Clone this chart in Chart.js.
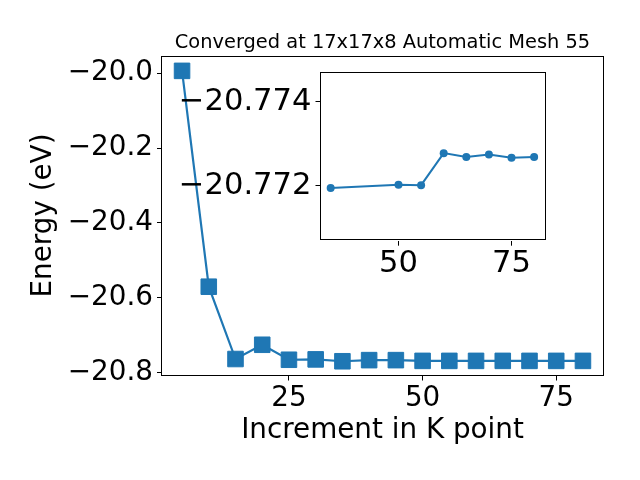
<!DOCTYPE html>
<html>
<head>
<meta charset="utf-8">
<script src="https://cdn.jsdelivr.net/npm/chart.js@4.4.1/dist/chart.umd.min.js"></script>
<style>
  html, body { margin: 0; padding: 0; background: #fff; }
  #wrap { position: relative; width: 640px; height: 480px; }
  #mainChart { position: absolute; left: 0; top: 0; }
  #insetChart { position: absolute; left: 170px; top: 50px; }
</style>
</head>
<body>
<div id="wrap">
  <canvas id="mainChart" width="640" height="480"></canvas>
  <canvas id="insetChart" width="385" height="250"></canvas>
</div>
<script>
// K point increments and total energies (eV)
const kPoints = [5, 10, 15, 20, 25, 30, 35, 40, 45, 50, 55, 60, 65, 70, 75, 80];
const energies = [-19.994, -20.570, -20.763, -20.725, -20.765, -20.764, -20.769, -20.766,
                  -20.766, -20.768, -20.768, -20.768, -20.768, -20.768, -20.768, -20.768];

// zoomed-in view
const insetK = [35, 50, 55, 60, 65, 70, 75, 80];
const insetEnergies = [-20.77195, -20.77203, -20.77202, -20.77278, -20.77269, -20.77275, -20.77267, -20.77269];

const mainXTicks = [25, 50, 75];
const mainYTicks = [-20.0, -20.2, -20.4, -20.6, -20.8];
const insetXTicks = [50, 75];
const insetYTicks = [-20.774, -20.772];

const titleText = 'Converged at 17x17x8 Automatic Mesh 55';
const blue = '#1f77b4';
const fontFamily = '"DejaVu Sans", sans-serif';

Chart.defaults.font.family = fontFamily;
Chart.defaults.color = '#000';

const minus = (v, d) => (v < 0 ? '\u2212' : '') + Math.abs(v).toFixed(d);

// white plot face + black frame like matplotlib spines
const frame = {
    id: 'frame',
    beforeDraw(chart) {
        const a = chart.chartArea, c = chart.ctx;
        c.save();
        c.fillStyle = '#fff';
        c.fillRect(a.left, a.top, a.right - a.left, a.bottom - a.top);
        c.restore();
    },
    afterDraw(chart) {
        const a = chart.chartArea, c = chart.ctx;
        c.save();
        c.strokeStyle = '#000';
        c.lineWidth = 1;
        c.strokeRect(Math.round(a.left) - 0.5, Math.round(a.top) + 0.5,
                     Math.round(a.right - a.left) + 1, Math.round(a.bottom - a.top) - 1);
        c.restore();
    }
};

// title centred over the plot area (not the whole canvas)
const axesTitle = {
    id: 'axesTitle',
    afterDraw(chart, args, opts) {
        const a = chart.chartArea, c = chart.ctx;
        c.save();
        c.font = '19.4px ' + fontFamily;
        c.fillStyle = '#000';
        c.textAlign = 'center';
        c.textBaseline = 'alphabetic';
        c.fillText(opts.text, (a.left + a.right) / 2, a.top - 7.5);
        c.restore();
    }
};

const tickGrid = { drawOnChartArea: false, drawTicks: true, tickLength: 5, color: '#000', lineWidth: 1 };

function fixedTicks(list) {
    return scale => { scale.ticks = list.map(v => ({ value: v })); };
}

new Chart(document.getElementById('mainChart'), {
    type: 'line',
    data: {
        datasets: [{
            data: kPoints.map((k, i) => ({ x: k, y: energies[i] })),
            borderColor: blue,
            backgroundColor: blue,
            borderWidth: 2.2,
            pointStyle: 'rect',
            pointRadius: 11,
            pointBorderWidth: 1,
            tension: 0
        }]
    },
    options: {
        responsive: false,
        animation: false,
        devicePixelRatio: 1,
        layout: { padding: { left: 0, top: 55.5, right: 37, bottom: 0 } },
        plugins: {
            legend: { display: false },
            tooltip: { enabled: false },
            axesTitle: { text: titleText }
        },
        scales: {
            x: {
                type: 'linear',
                min: 1.25,
                max: 83.75,
                grid: tickGrid,
                border: { display: false },
                afterBuildTicks: fixedTicks(mainXTicks),
                afterFit: s => { s.height = 104.5; },
                ticks: { font: { size: 27.8, lineHeight: 1.0 }, padding: 4, maxRotation: 0, callback: v => String(v) },
                title: {
                    display: true,
                    text: 'Increment in K point',
                    font: { size: 27.8, lineHeight: 1.2 },
                    padding: { top: 0, bottom: 33 }
                }
            },
            y: {
                type: 'linear',
                min: -20.807,
                max: -19.953,
                grid: tickGrid,
                border: { display: false },
                afterBuildTicks: fixedTicks(mainYTicks),
                afterFit: s => { s.width = 162; },
                ticks: { font: { size: 27.8, lineHeight: 1.0 }, padding: 4, callback: v => minus(v, 1) },
                title: {
                    display: true,
                    text: 'Energy (eV)',
                    font: { size: 27.8, lineHeight: 1.2 },
                    padding: { top: 27, bottom: 0 }
                }
            }
        }
    },
    plugins: [frame, axesTitle]
});

new Chart(document.getElementById('insetChart'), {
    type: 'line',
    data: {
        datasets: [{
            data: insetK.map((k, i) => ({ x: k, y: insetEnergies[i] })),
            borderColor: blue,
            backgroundColor: blue,
            borderWidth: 2,
            pointStyle: 'circle',
            pointRadius: 4,
            pointBorderWidth: 0,
            tension: 0
        }]
    },
    options: {
        responsive: false,
        animation: false,
        devicePixelRatio: 1,
        layout: { padding: { left: 0, top: 22.3, right: 10.7, bottom: 0 } },
        plugins: { legend: { display: false }, tooltip: { enabled: false } },
        scales: {
            x: {
                type: 'linear',
                min: 32.75,
                max: 82.25,
                grid: tickGrid,
                border: { display: false },
                afterBuildTicks: fixedTicks(insetXTicks),
                afterFit: s => { s.height = 59.3; },
                ticks: { font: { size: 30.6, lineHeight: 1.0 }, padding: 3, maxRotation: 0, callback: v => String(v) }
            },
            y: {
                type: 'linear',
                reverse: true,
                min: -20.7747,
                max: -20.7707,
                grid: tickGrid,
                border: { display: false },
                afterBuildTicks: fixedTicks(insetYTicks),
                afterFit: s => { s.width = 150.5; },
                ticks: { font: { size: 30.6, lineHeight: 1.0 }, padding: 4, callback: v => minus(v, 3) }
            }
        }
    },
    plugins: [frame]
});
</script>
</body>
</html>
